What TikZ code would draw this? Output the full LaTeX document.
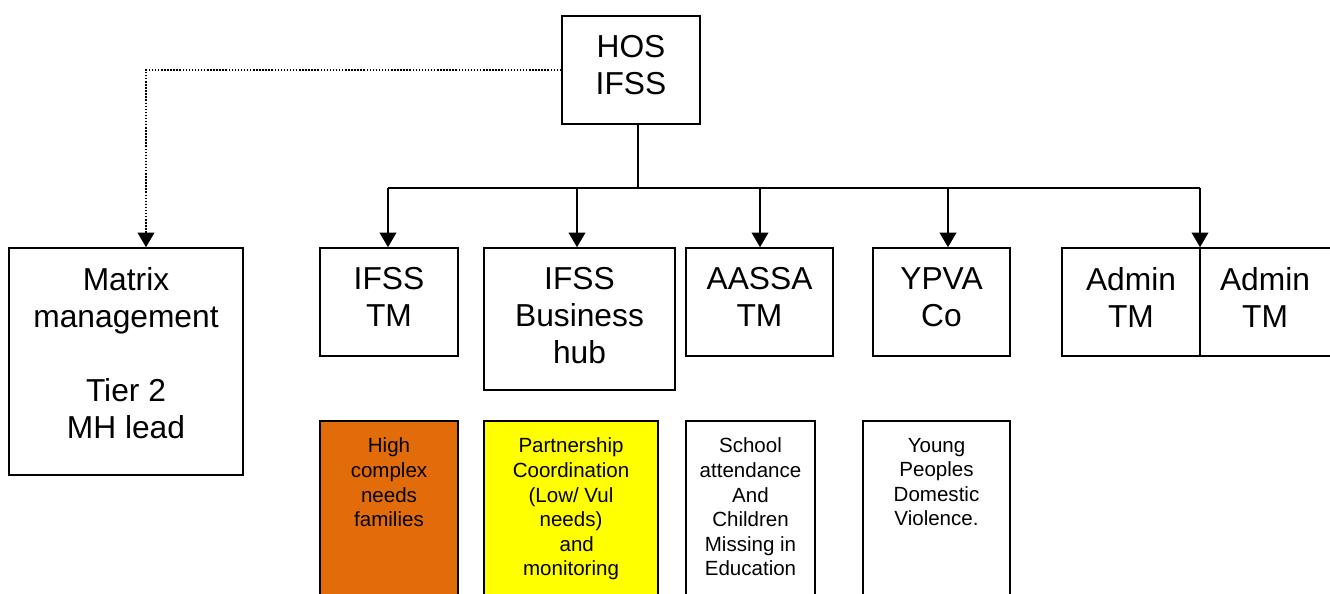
\documentclass[tikz,border=0pt]{standalone}
\usepackage{fontspec}
\setmainfont{Liberation Sans}
\usetikzlibrary{arrows.meta,fit}
\definecolor{orng}{HTML}{E36C0A}
\definecolor{yel}{HTML}{FFFF00}
\begin{document}
\begin{tikzpicture}[x=0.75pt,y=-0.75pt,
  box/.style={draw, line width=1.2pt, inner sep=0pt},
  big/.style={font=\fontsize{23.8}{27.75}\selectfont, align=center, anchor=north, inner sep=0pt},
  small/.style={font=\fontsize{15.4}{18.45}\selectfont, align=center, anchor=north, inner sep=0pt},
  conn/.style={line width=1.5pt},
  arr/.style={conn, -{Triangle[width=12.5pt,length=11pt]}},
  dotline/.style={line width=1.6pt, dash pattern=on 1.1pt off 1.2pt, -{Triangle[width=12.5pt,length=11pt]}}]
\useasboundingbox (0,0) rectangle (1330,593);
\clip (0,0) rectangle (1330,593);

% boxes
\node[box, fit={(562,16) (700,124)}] (hos) {};
\node[box, fit={(9,248) (243,475)}] (matrix) {};
\node[box, fit={(320,248) (458,356)}] (ifsstm) {};
\node[box, fit={(484,248) (675,390)}] (hub) {};
\node[box, fit={(686,248) (833,356)}] (aassa) {};
\node[box, fit={(873,248) (1010,356)}] (ypva) {};
\node[box, fit={(1062,248) (1200,356)}] (adminL) {};
\node[box, fit={(1200,248) (1333,356)}] (adminR) {};

\node[box, fill=orng, fit={(320,421) (458,610)}] (high) {};
\node[box, fill=yel, fit={(484,421) (658,610)}] (partner) {};
\node[box, fit={(686,421) (815,610)}] (school) {};
\node[box, fit={(863,421) (1010,610)}] (young) {};

% texts
\node[big] (thos) at (631,35) {HOS\\IFSS};
\node[big] (tmatrix) at (126,267.5) {Matrix\\management\\[27.75pt]Tier 2\\MH lead};
\node[big] (tifsstm) at (389,267.5) {IFSS\\TM};
\node[big] (thub) at (579.5,267.5) {IFSS\\Business\\hub};
\node[big] (taassa) at (759.5,267.5) {AASSA\\TM};
\node[big] (typva) at (941.5,267.5) {YPVA\\Co};
\node[big] (tadminL) at (1131,267.5) {Admin\\TM};
\node[big] (tadminR) at (1265,267.5) {Admin\\TM};

\node[small] (thigh) at (389,437.7) {High\\complex\\needs\\families};
\node[small] (tpartner) at (571,437.7) {Partnership\\Coordination\\(Low/ Vul\\needs)\\\ \ and\\monitoring};
\node[small] (tschool) at (750.5,437.7) {School\\attendance\\And\\Children\\Missing in\\Education};
\node[small] (tyoung) at (936.5,437.7) {Young\\Peoples\\Domestic\\Violence.};

% connectors
\coordinate (bus) at (638,188);
\coordinate (b1) at (388,188);
\coordinate (b2) at (577,188);
\coordinate (b3) at (760,188);
\coordinate (b4) at (948,188);
\coordinate (b5) at (1200,188);
\coordinate (dl) at (146,70);

\draw[conn] (hos.south -| bus) -- (bus);
\draw[conn] (b1) -- (b5);
\draw[arr] (b1) -- (b1 |- ifsstm.north);
\draw[arr] (b2) -- (b2 |- hub.north);
\draw[arr] (b3) -- (b3 |- aassa.north);
\draw[arr] (b4) -- (b4 |- ypva.north);
\draw[arr] (b5) -- (b5 |- adminL.north);
\draw[dotline] (hos.west |- dl) -- (dl) -- (dl |- matrix.north);
\end{tikzpicture}
\end{document}
